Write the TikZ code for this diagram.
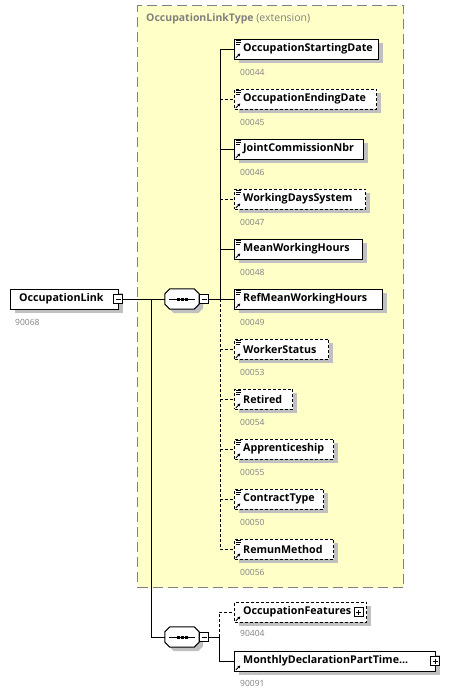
\documentclass[tikz,border=0pt]{standalone}
\usepackage{fontspec}
\setmainfont{Open Sans}
\usetikzlibrary{shadows,arrows.meta}
\definecolor{boxyellow}{HTML}{FFFFC8}
\definecolor{numgray}{HTML}{808080}
\definecolor{shadowgray}{HTML}{C0C0C0}
\tikzset{
  ln/.style={line width=1pt},
  opt/.style={dash pattern=on 3pt off 2pt},
  shd/.style={general shadow={fill=shadowgray, shadow xshift=4pt, shadow yshift=-4pt}},
  elem/.style={draw, fill=white, line width=1pt, minimum height=20pt, inner sep=0pt, anchor=west, shd},
  etext/.style={anchor=west, inner sep=0pt, font=\bfseries\fontsize{10.7}{12}\selectfont},
  num/.style={anchor=west, inner sep=0pt, font=\fontsize{8.5}{10}\selectfont, text=numgray},
  pmbox/.style={draw, fill=white, line width=0.8pt, minimum size=9pt, inner sep=0pt},
  minusbox/.style={pmbox, path picture={\draw[line width=0.8pt] ([xshift=2pt]path picture bounding box.west) -- ([xshift=-2pt]path picture bounding box.east);}},
  plusbox/.style={pmbox, path picture={\draw[line width=0.8pt] ([xshift=2pt]path picture bounding box.west) -- ([xshift=-2pt]path picture bounding box.east); \draw[line width=0.8pt] ([yshift=-2pt]path picture bounding box.north) -- ([yshift=2pt]path picture bounding box.south);}},
  seqbox/.style={rectangle, draw=none, minimum width=34pt, minimum height=20pt, inner sep=0pt},
}
\newcommand\octpath[3]{([shift={(5+#2,#3)}]#1.north west) -- ([shift={(-5+#2,#3)}]#1.north east) -- ([shift={(#2,5+#3)}]#1.north east) -- ([shift={(#2,-5+#3)}]#1.south east) -- ([shift={(-5+#2,#3)}]#1.south east) -- ([shift={(5+#2,#3)}]#1.south west) -- ([shift={(#2,-5+#3)}]#1.south west) -- ([shift={(#2,5+#3)}]#1.north west) -- cycle}
\newcommand\seqdraw[1]{%
  \fill[shadowgray] \octpath{#1}{4}{4};
  \draw[line width=1pt, fill=white] \octpath{#1}{0}{0};
  \draw[line width=1pt] ([xshift=4pt]#1.west) -- ([xshift=-4pt]#1.east);
  \foreach \d in {-4,0,4} \fill ([shift={(\d-1.5,-1.5)}]#1.center) rectangle ++(3,3);
}
\newcommand\docicon[1]{\draw[line width=0.7pt] ([shift={(2,1.5)}]#1.north west) -- ++(5,0) ++(-5,2.2) -- ++(5,0) ++(-5,2.2) -- ++(3.5,0);}
\newcommand\refarrow[1]{\draw[line width=0.8pt,-{Triangle[length=2.6pt,width=2.8pt]}] ([shift={(1.8,-1.5)}]#1.south west) -- ++(4.5,-4.5);}
\begin{document}
\begin{tikzpicture}[x=1pt,y=-1pt]
\useasboundingbox (0,0) rectangle (466,694);
\fill[white] (0,0) rectangle (466,694);
% extension box
\node[draw=numgray, fill=boxyellow, line width=1pt, dash pattern=on 10pt off 5pt, minimum width=266pt, minimum height=582pt, inner sep=0pt, anchor=north west] (ext) at (137,5) {};
\node[anchor=west, inner sep=0pt, text=numgray, font=\fontsize{10.5}{12}\selectfont] (exttitle) at (146,19) {\textbf{OccupationLinkType} (extension)};

% root
\node[elem, minimum width=108pt] (root) at (10,299) {};
\node[etext] (roott) at (19,299) {OccupationLink};
\node[minusbox] (rootm) at (118,299) {};
\node[num] (rootn) at (15,322) {90068};

% sequences
\node[seqbox] (s1) at (182,299) {};
\seqdraw{s1}
\node[minusbox] (s1m) at (204,299) {};
\node[seqbox] (s2) at (182,637) {};
\seqdraw{s2}
\node[minusbox] (s2m) at (204,637) {};
\coordinate (j) at (151,299);
\coordinate (bus) at (220,299);
\coordinate (bus2) at (219,637);

% elements
\foreach \i/\w/\txt/\n/\o in {
  1/144/OccupationStartingDate/00044/0,
  2/142/OccupationEndingDate/00045/1,
  3/129/JointCommissionNbr/00046/0,
  4/131/WorkingDaysSystem/00047/1,
  5/128/MeanWorkingHours/00048/0,
  6/148/RefMeanWorkingHours/00049/0,
  7/94/WorkerStatus/00053/1,
  8/58/Retired/00054/1,
  9/99/Apprenticeship/00055/1,
  10/89/ContractType/00050/1,
  11/99/RemunMethod/00056/1}{
  \ifnum\o=1
    \node[elem, opt, minimum width=\w pt] (e\i) at (234,{49+50*(\i-1)}) {};
  \else
    \node[elem, minimum width=\w pt] (e\i) at (234,{49+50*(\i-1)}) {};
  \fi
  \node[etext] (e\i t) at (243,{49+50*(\i-1)}) {\txt};
  \node[num] (e\i n) at (240,{72+50*(\i-1)}) {\n};
  \docicon{e\i}
  \refarrow{e\i}
}

\node[elem, opt, minimum width=132pt] (f1) at (234,612) {};
\node[etext] (f1t) at (243,612) {OccupationFeatures};
\node[plusbox] (f1p) at (358.5,612) {};
\node[num] (f1n) at (240,633) {90404};
\refarrow{f1}
\node[elem, minimum width=201pt] (f2) at (234,661) {};
\node[etext] (f2t) at (243,661) {MonthlyDeclarationPartTime...};
\node[plusbox] (f2p) at (435,661) {};
\node[num] (f2n) at (240,683) {90091};
\refarrow{f2}

% connectors
\draw[ln] (rootm.east) -- (s1.west);
\draw[ln] (j) |- (s2.west);
\draw[ln] (s1m.east) -- (e6.west);
\draw[ln] (e1.west) -| (bus);
\draw[ln] (bus |- e3.west) -- (e3.west);
\draw[ln] (bus |- e5.west) -- (e5.west);
\draw[ln,opt] (bus |- e2.west) -- (e2.west);
\draw[ln,opt] (bus |- e4.west) -- (e4.west);
\draw[ln,opt] (bus) |- (e11.west);
\foreach \k in {7,8,9,10} \draw[ln,opt] (bus |- e\k.west) -- (e\k.west);
\draw[ln] (s2m.east) -- (bus2);
\draw[ln,opt] (bus2) |- (f1.west);
\draw[ln] (bus2) |- (f2.west);
\end{tikzpicture}
\end{document}
